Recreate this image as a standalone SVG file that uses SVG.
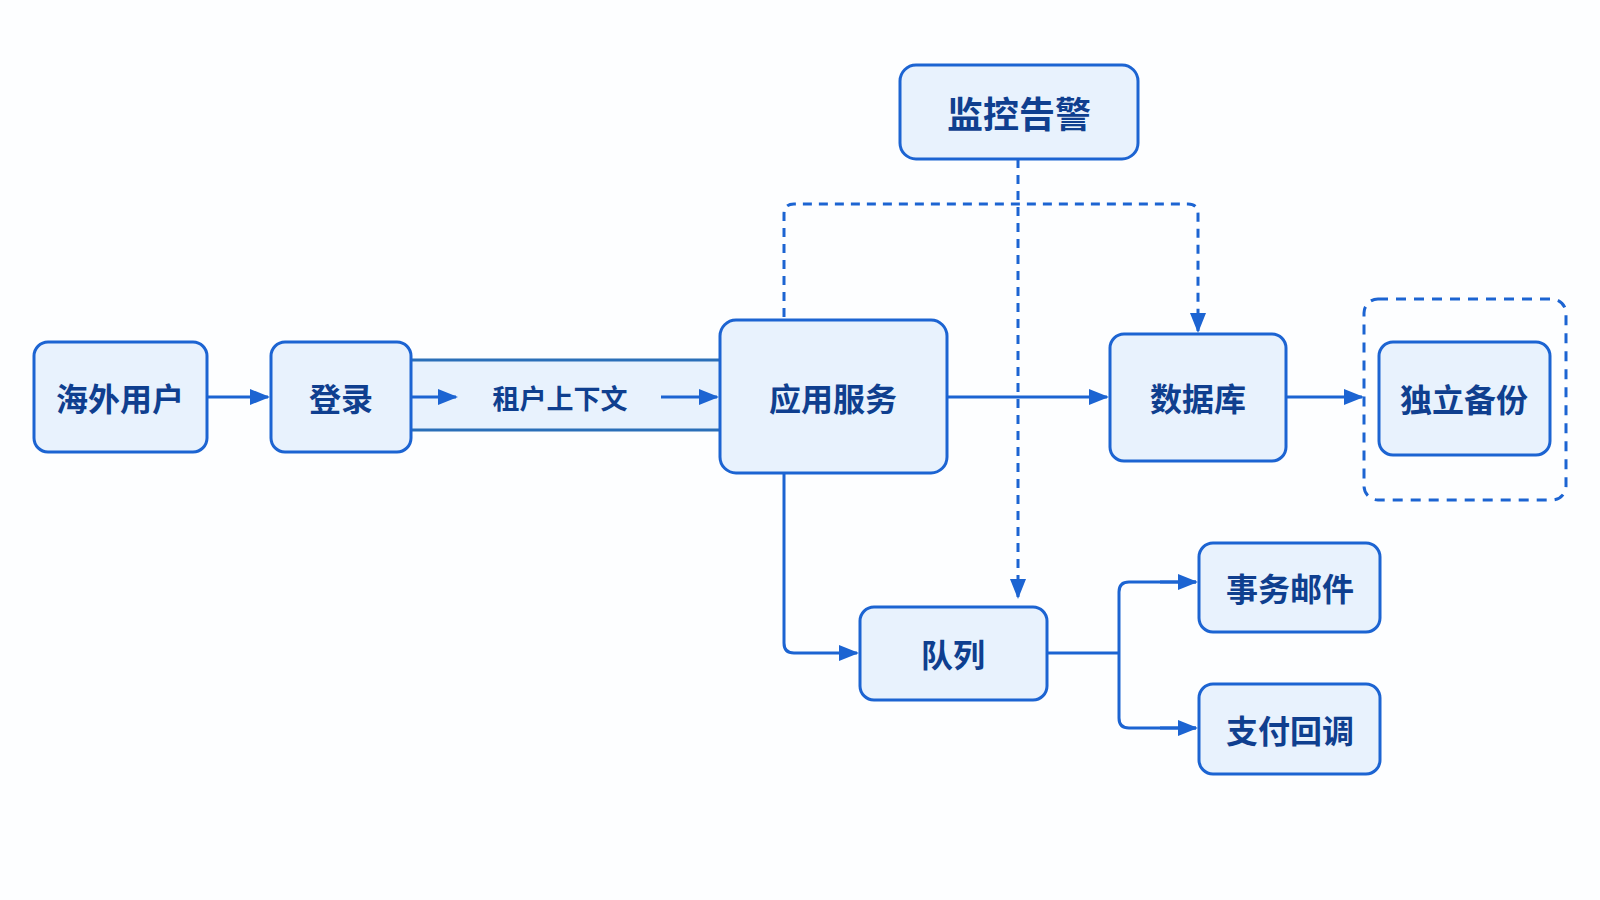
<svg xmlns="http://www.w3.org/2000/svg" width="1600" height="900" viewBox="0 0 1600 900">
<style>
.n rect{fill:#e8f2fd;stroke:#1c64d2;stroke-width:3}
.n text{font-family:"Noto Sans CJK SC",sans-serif;font-weight:700;fill:#0f3f8f;text-anchor:middle;dominant-baseline:central;font-size:32px}
.c{fill:none;stroke:#1c64d2;stroke-width:3}
.d{stroke-dasharray:9 7}
</style>
<defs><marker id="a" viewBox="0 0 10 10" refX="9" refY="5" markerWidth="7" markerHeight="7" markerUnits="userSpaceOnUse" orient="auto" style="overflow:visible"><path d="M0,0L10,5L0,10z" fill="#1c64d2" transform="scale(2.2) translate(-5.5,-2.7)"/></marker>
<marker id="m" viewBox="0 0 20 20" refX="18" refY="10" markerWidth="20" markerHeight="20" markerUnits="userSpaceOnUse" orient="auto"><path d="M0,2L20,10L0,18z" fill="#1c64d2"/></marker></defs>
<rect width="1600" height="900" fill="#fdfeff"/>
<g id="band"><rect x="411" y="360" width="309" height="70" fill="#e8f2fd"/><line x1="411" y1="360" x2="720" y2="360" stroke="#2a6fb8" stroke-width="3"/><line x1="411" y1="430" x2="720" y2="430" stroke="#2a6fb8" stroke-width="3"/>
<text x="560" y="397" font-family="Noto Sans CJK SC,sans-serif" font-weight="700" font-size="27" fill="#0f3f8f" text-anchor="middle" dominant-baseline="central">租户上下文</text></g>
<g id="backupbox"><rect x="1364" y="299" width="202" height="201" rx="14" fill="none" stroke="#1c64d2" stroke-width="3" stroke-dasharray="10 8"/></g>
<g id="connectors">
<path class="c" d="M207,397H268" marker-end="url(#m)"/>
<path class="c" d="M412,397H456" marker-end="url(#m)"/>
<path class="c" d="M661,397H717" marker-end="url(#m)"/>
<path class="c" d="M947,397H1107" marker-end="url(#m)"/>
<path class="c" d="M1286,397H1362" marker-end="url(#m)"/>
<path class="c" d="M784,473V643q0,10 10,10H857" marker-end="url(#m)"/>
<path class="c" d="M1047,653H1119"/>
<path class="c" d="M1196,582H1129q-10,0 -10,10V718q0,10 10,10H1196" />
<path class="c" d="M1160,582H1196" marker-end="url(#m)"/>
<path class="c" d="M1160,728H1196" marker-end="url(#m)"/>
<path class="c d" d="M1018,159V597" marker-end="url(#m)"/>
<path class="c d" d="M784,317V214q0,-10 10,-10H1188q10,0 10,10V331" marker-end="url(#m)"/>
</g>
<g id="n1" class="n"><rect x="34" y="342" width="173" height="110" rx="14"/><text x="120" y="397">海外用户</text></g>
<g id="n2" class="n"><rect x="271" y="342" width="140" height="110" rx="14"/><text x="341" y="397">登录</text></g>
<g id="n3" class="n"><rect x="720" y="320" width="227" height="153" rx="16"/><text x="833" y="397">应用服务</text></g>
<g id="n4" class="n"><rect x="1110" y="334" width="176" height="127" rx="14"/><text x="1198" y="397">数据库</text></g>
<g id="n5" class="n"><rect x="1379" y="342" width="171" height="113" rx="14"/><text x="1464" y="398">独立备份</text></g>
<g id="n6" class="n"><rect x="900" y="65" width="238" height="94" rx="16"/><text x="1019" y="112" style="font-size:36px">监控告警</text></g>
<g id="n7" class="n"><rect x="860" y="607" width="187" height="93" rx="14"/><text x="953" y="653">队列</text></g>
<g id="n8" class="n"><rect x="1199" y="543" width="181" height="89" rx="14"/><text x="1290" y="587">事务邮件</text></g>
<g id="n9" class="n"><rect x="1199" y="684" width="181" height="90" rx="14"/><text x="1290" y="729">支付回调</text></g>
</svg>
